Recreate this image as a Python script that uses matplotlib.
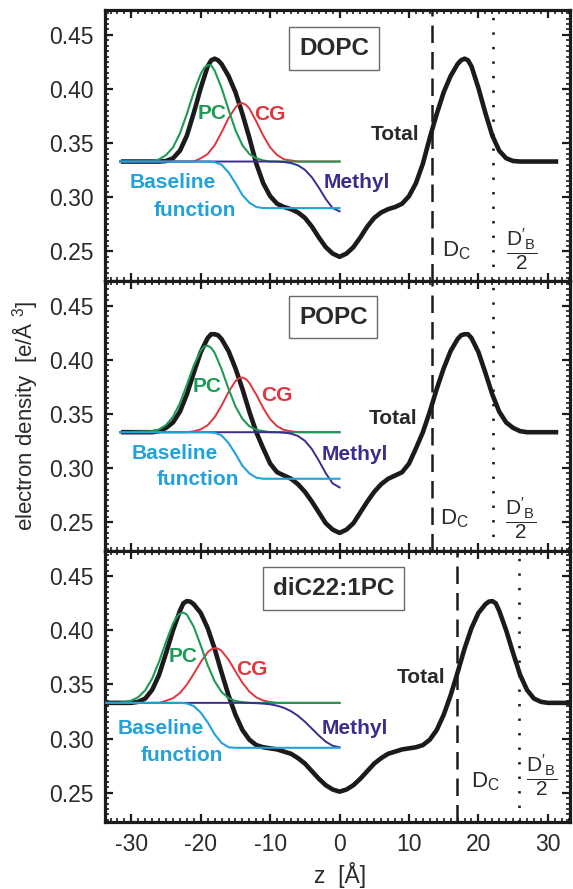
import matplotlib
matplotlib.use('Agg')
import matplotlib.pyplot as plt
from matplotlib.ticker import MultipleLocator

plt.rcParams['font.family'] = ['Liberation Sans', 'DejaVu Sans']
plt.rcParams['mathtext.fontset'] = 'custom'
plt.rcParams['mathtext.rm'] = 'Liberation Sans'
plt.rcParams['mathtext.it'] = 'Liberation Sans'
plt.rcParams['mathtext.default'] = 'regular'

# ---------------- data ----------------
panel_names = ['DOPC', 'POPC', 'diC22:1PC']

# Total electron density profiles
z_tot_dopc = [-31.5, -27, -26, -25, -24, -23, -22, -21, -20, -19, -18.5, -18, -17.5, -17, -16, -15, -14, -13, -12,
              -11, -10, -9, -8, -7, -6, -5, -4, -3, -2, -1, 0, 1, 2, 3, 4, 5, 6, 7, 8, 9, 10, 11, 12, 13, 14, 15,
              16, 17, 17.5, 18, 18.5, 19, 20, 21, 22, 23, 24, 25, 26, 27, 31.5]
tot_dopc = [0.333, 0.333, 0.333, 0.3335, 0.336, 0.343, 0.357, 0.378, 0.401, 0.421, 0.4265, 0.428, 0.4265, 0.423,
            0.412, 0.397, 0.377, 0.355, 0.331, 0.313, 0.301, 0.294, 0.291, 0.289, 0.286, 0.281, 0.273, 0.263,
            0.254, 0.248, 0.245, 0.248, 0.254, 0.263, 0.273, 0.281, 0.286, 0.289, 0.291, 0.294, 0.301, 0.313,
            0.331, 0.355, 0.377, 0.397, 0.412, 0.423, 0.4265, 0.428, 0.4265, 0.421, 0.401, 0.378, 0.357, 0.343,
            0.336, 0.3335, 0.333, 0.333, 0.333]

z_tot_popc = [-31.5, -27, -26, -25, -24, -23, -22, -21, -20, -19, -18.5, -18, -17.5, -17, -16, -15, -14, -13, -12,
              -11, -10, -9, -8, -7, -6, -5, -4, -3, -2, -1, 0, 1, 2, 3, 4, 5, 6, 7, 8, 9, 10, 11, 12, 13, 14, 15,
              16, 17, 17.5, 18, 18.5, 19, 20, 21, 22, 23, 24, 25, 26, 27, 31.5]
tot_popc = [0.333, 0.333, 0.334, 0.337, 0.342, 0.352, 0.368, 0.388, 0.407, 0.420, 0.4235, 0.4235, 0.4225, 0.419,
            0.408, 0.392, 0.373, 0.352, 0.333, 0.318, 0.304, 0.296, 0.293, 0.290, 0.285, 0.278, 0.269, 0.259,
            0.249, 0.243, 0.240, 0.243, 0.249, 0.259, 0.269, 0.278, 0.285, 0.290, 0.293, 0.296, 0.304, 0.318,
            0.333, 0.352, 0.373, 0.392, 0.408, 0.419, 0.4225, 0.4235, 0.4235, 0.420, 0.407, 0.388, 0.368, 0.352,
            0.342, 0.337, 0.334, 0.333, 0.333]

z_tot_dic22 = [-36, -30, -29, -28, -27, -26, -25, -24, -23, -22.5, -22, -21.5, -21, -20, -19, -18, -17, -16, -15,
               -14, -13, -12, -11, -10, -9, -8, -7, -6, -5, -4, -3, -2, -1, 0, 1, 2, 3, 4, 5, 6, 7, 8, 9, 10, 11,
               12, 13, 14, 15, 16, 17, 18, 19, 20, 21, 21.5, 22, 22.5, 23, 24, 25, 26, 27, 28, 29, 30, 36]
tot_dic22 = [0.333, 0.333, 0.334, 0.337, 0.345, 0.359, 0.379, 0.400, 0.418, 0.425, 0.427, 0.4265, 0.424, 0.416,
             0.402, 0.383, 0.361, 0.340, 0.322, 0.308, 0.299, 0.294, 0.292, 0.291, 0.290, 0.288, 0.286, 0.282,
             0.277, 0.270, 0.263, 0.257, 0.253, 0.251, 0.253, 0.257, 0.263, 0.270, 0.277, 0.282, 0.286, 0.288,
             0.290, 0.291, 0.292, 0.294, 0.299, 0.308, 0.322, 0.340, 0.361, 0.383, 0.402, 0.416, 0.424, 0.4265,
             0.427, 0.425, 0.418, 0.400, 0.379, 0.359, 0.345, 0.337, 0.334, 0.333, 0.333]

# PC (phosphocholine) component
z_pc_dopc = [-31.6, -27, -26, -25, -24, -23, -22, -21, -20, -19.5, -19, -18.5, -18, -17, -16, -15, -14, -13, -12,
             -11, -10, 0]
pc_dopc = [0.333, 0.3335, 0.335, 0.339, 0.346, 0.359, 0.377, 0.397, 0.414, 0.4196, 0.422, 0.4219, 0.417, 0.401,
           0.381, 0.362, 0.348, 0.340, 0.336, 0.334, 0.333, 0.333]
z_pc_popc = [-31.6, -27, -26, -25, -24, -23, -22, -21, -20, -19.5, -19, -18.5, -18, -17, -16, -15, -14, -13, -12,
             -11, -10, 0]
pc_popc = [0.333, 0.3339, 0.3356, 0.3396, 0.3472, 0.3598, 0.3767, 0.3947, 0.4084, 0.4121, 0.4129, 0.4109, 0.4064,
           0.3912, 0.3731, 0.3568, 0.3453, 0.3385, 0.3352, 0.334, 0.333, 0.333]
z_pc_dic22 = [-36, -32, -31, -30, -29, -28, -27, -26, -25, -24, -23.5, -23, -22.5, -22, -21, -20, -19, -18, -17,
              -16, -15, -14, -13, 0]
pc_dic22 = [0.333, 0.333, 0.3337, 0.3351, 0.3383, 0.3446, 0.3555, 0.3712, 0.3895, 0.4062, 0.4121, 0.4156, 0.4164,
            0.4145, 0.4032, 0.3859, 0.3678, 0.353, 0.343, 0.3374, 0.3347, 0.3337, 0.333, 0.333]

# CG (carbonyl-glycerol) component
z_cg_dopc = [-31.6, -21, -20, -19, -18, -17, -16, -15, -14.5, -14, -13.5, -13, -12, -11, -10, -9, -8, -7, -6, 0]
cg_dopc = [0.333, 0.333, 0.336, 0.340, 0.348, 0.360, 0.373, 0.383, 0.3863, 0.387, 0.3854, 0.382, 0.370, 0.357,
           0.346, 0.339, 0.335, 0.334, 0.333, 0.333]
z_cg_popc = [-31.6, -22, -21, -20, -19, -18, -17, -16, -15, -14.5, -14, -13.5, -13, -12, -11, -10, -9, -8, -7,
             -6, 0]
cg_popc = [0.333, 0.333, 0.3339, 0.3356, 0.3395, 0.3468, 0.3576, 0.3701, 0.3802, 0.3829, 0.3835, 0.3821, 0.3786,
           0.3677, 0.3553, 0.345, 0.3385, 0.3351, 0.3339, 0.333, 0.333]
z_cg_dic22 = [-36, -26, -25, -24, -23, -22, -21, -20, -19, -18.5, -18, -17.5, -17, -16, -15, -14, -13, -12, -11,
              -10, -9, 0]
cg_dic22 = [0.333, 0.333, 0.3349, 0.3374, 0.3421, 0.3498, 0.3599, 0.3708, 0.3797, 0.3824, 0.3835, 0.3831, 0.381,
            0.3729, 0.3621, 0.3516, 0.3434, 0.3381, 0.3352, 0.3338, 0.333, 0.333]

# Methyl component
z_me_dopc = [-31.6, -9, -8, -7, -6, -5, -4, -3, -2, -1, 0]
me_dopc = [0.333, 0.333, 0.3325, 0.3316, 0.3295, 0.3254, 0.3185, 0.309, 0.2985, 0.290, 0.287]
z_me_popc = [-31.6, -9, -8, -7, -6, -5, -4, -3, -2, -1, 0]
me_popc = [0.333, 0.333, 0.3326, 0.3317, 0.3295, 0.3251, 0.3175, 0.3069, 0.2952, 0.2857, 0.282]
z_me_dic22 = [-36, -13, -12, -11, -10, -9, -8, -7, -6, -5, -4, -3, -2, -1, 0]
me_dic22 = [0.333, 0.333, 0.3327, 0.3323, 0.3317, 0.3304, 0.3284, 0.3253, 0.3211, 0.3156, 0.3093, 0.3029, 0.2972,
            0.2934, 0.292]

# Baseline function
z_bl_dopc = [-31.6, -19, -18, -17, -16, -15, -14, -13, -12, -11, 0]
bl_dopc = [0.333, 0.333, 0.3325, 0.330, 0.323, 0.313, 0.302, 0.295, 0.291, 0.290, 0.290]
z_bl_popc = [-31.6, -19, -18, -17, -16, -15, -14, -13, -12, -11, 0]
bl_popc = [0.333, 0.333, 0.3325, 0.330, 0.323, 0.313, 0.302, 0.295, 0.291, 0.290, 0.290]
z_bl_dic22 = [-36, -23, -22, -21, -20, -19, -18, -17, -16, -15, 0]
bl_dic22 = [0.333, 0.333, 0.3325, 0.330, 0.324, 0.315, 0.304, 0.296, 0.292, 0.2915, 0.2915]

# D_C and D'_B/2 positions [Å]
d_c = [13.3, 13.3, 16.9]
d_b_half = [22.1, 22.1, 25.8]

x_ticks = [-30, -20, -10, 0, 10, 20, 30]
y_ticks = [0.25, 0.30, 0.35, 0.40, 0.45]

# ---------------- styling ----------------
C_TOT = '#1c1a1a'
C_PC = '#1c9a56'
C_CG = '#e0353e'
C_ME = '#3b2d8c'
C_BL = '#20a2dc'
C_TXT = '#2a2a2a'

fig = plt.figure(figsize=(5.73, 8.89), dpi=100)
axes = fig.subplots(3, 1, sharex=True, gridspec_kw=dict(hspace=0))
fig.subplots_adjust(left=0.1832, right=0.9948, top=0.9888, bottom=0.0754)

data = [
    (z_tot_dopc, tot_dopc, z_pc_dopc, pc_dopc, z_cg_dopc, cg_dopc, z_me_dopc, me_dopc, z_bl_dopc, bl_dopc),
    (z_tot_popc, tot_popc, z_pc_popc, pc_popc, z_cg_popc, cg_popc, z_me_popc, me_popc, z_bl_popc, bl_popc),
    (z_tot_dic22, tot_dic22, z_pc_dic22, pc_dic22, z_cg_dic22, cg_dic22, z_me_dic22, me_dic22, z_bl_dic22,
     bl_dic22),
]

# label positions (z, density) per panel
lab_pos = [
    dict(PC=(-18.4, 0.3776), CG=(-10.0, 0.3766), Base=(-24.1, 0.3134), func=(-20.8, 0.288),
         Me=(2.5, 0.314), Tot=(8.0, 0.3583), name=(-0.8, 0.4373),
         dc=(14.7, 0.2455), db=(26.2, 0.2521)),
    dict(PC=(-19.1, 0.375), CG=(-9.0, 0.3667), Base=(-23.7, 0.3137), func=(-20.4, 0.2892),
         Me=(2.2, 0.312), Tot=(7.7, 0.3459), name=(-0.9, 0.4393),
         dc=(14.4, 0.2478), db=(26.0, 0.254)),
    dict(PC=(-22.5, 0.376), CG=(-12.6, 0.3636), Base=(-25.8, 0.3092), func=(-22.7, 0.2847),
         Me=(2.2, 0.309), Tot=(11.8, 0.356), name=(-0.9, 0.4385),
         dc=(18.9, 0.2545), db=(29.1, 0.2666)),
]

LFS = 15
for i, ax in enumerate(axes):
    zt, tt, zp, pp, zc, cc, zm, mm, zb, bb = data[i]
    ax.plot(zt, tt, color=C_TOT, lw=3.3, zorder=2, solid_capstyle='butt')
    ax.plot(zc, cc, color=C_CG, lw=1.4, zorder=3)
    ax.plot(zp, pp, color=C_PC, lw=1.5, zorder=4)
    ax.plot(zm, mm, color=C_ME, lw=1.4, zorder=5)
    ax.plot(zb, bb, color=C_BL, lw=1.5, zorder=6)

    ax.axvline(d_c[i], color=C_TOT, lw=1.8, ls=(0, (7, 3.6)), zorder=1)
    ax.axvline(d_b_half[i], color=C_TOT, lw=1.9, ls=(0, (0.9, 4.6)), zorder=1)

    lp = lab_pos[i]
    ax.text(*lp['PC'], 'PC', color=C_PC, fontsize=LFS, fontweight='bold', ha='center', va='center', zorder=7)
    ax.text(*lp['CG'], 'CG', color=C_CG, fontsize=LFS, fontweight='bold', ha='center', va='center', zorder=7)
    ax.text(*lp['Base'], 'Baseline', color=C_BL, fontsize=LFS, fontweight='bold', ha='center', va='center')
    ax.text(*lp['func'], 'function', color=C_BL, fontsize=LFS, fontweight='bold', ha='center', va='center')
    ax.text(*lp['Me'], 'Methyl', color=C_ME, fontsize=LFS, fontweight='bold', ha='center', va='center')
    ax.text(*lp['Tot'], 'Total', color=C_TXT, fontsize=LFS, fontweight='bold', ha='center', va='center')
    ax.text(*lp['name'], panel_names[i], color=C_TXT, fontsize=17.5, fontweight='bold', ha='center',
            va='center', bbox=dict(boxstyle='square,pad=0.4', fc='white', ec='#6a6a6a', lw=1.0))
    ax.text(*lp['dc'], r'$\mathregular{D_C}$', color=C_TXT, fontsize=16, ha='left', va='baseline')
    ax.text(*lp['db'], r"$\mathregular{\dfrac{D'_B}{2}}$", color=C_TXT, fontsize=15, ha='center',
            va='center')

    ax.set_xlim(-33.8, 33.2)
    ax.set_ylim(0.223, 0.473)
    ax.set_xticks(x_ticks)
    ax.set_yticks(y_ticks)
    ax.xaxis.set_minor_locator(MultipleLocator(1))
    ax.yaxis.set_minor_locator(MultipleLocator(0.005))
    ax.set_yticklabels(['%.2f' % v for v in y_ticks])
    ax.tick_params(which='both', direction='in', top=True, right=True, colors=C_TOT, labelcolor=C_TXT,
                   labelsize=16.5)
    ax.tick_params(which='major', length=6, width=1.6)
    ax.tick_params(which='minor', length=3, width=1.2)
    ax.tick_params(axis='y', pad=8)
    ax.tick_params(axis='x', pad=8)
    for s in ax.spines.values():
        s.set_linewidth(2.3)
        s.set_color(C_TOT)

axes[2].set_xticklabels([str(t) for t in x_ticks])

fig.text(0.044, 0.532, 'electron density  [e/Å $^{3}$]', rotation=90, ha='center', va='center',
         fontsize=16, color=C_TXT)
fig.text(0.5934, 0.0157, 'z  [Å]', ha='center', va='center', fontsize=16.5, color=C_TXT)

fig.savefig('out.png', dpi=100)
